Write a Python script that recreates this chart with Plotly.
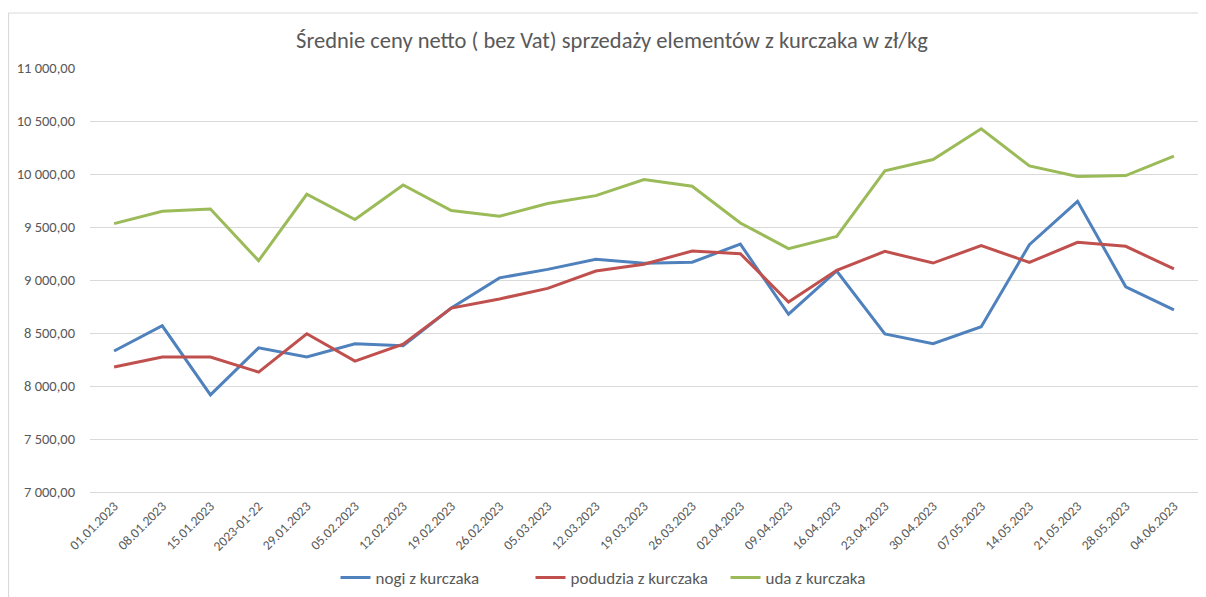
import plotly.graph_objects as go

dates = ["01.01.2023", "08.01.2023", "15.01.2023", "2023-01-22", "29.01.2023", "05.02.2023",
         "12.02.2023", "19.02.2023", "26.02.2023", "05.03.2023", "12.03.2023", "19.03.2023",
         "26.03.2023", "02.04.2023", "09.04.2023", "16.04.2023", "23.04.2023", "30.04.2023",
         "07.05.2023", "14.05.2023", "21.05.2023", "28.05.2023", "04.06.2023"]

nogi = [8330, 8568, 7916, 8360, 8275, 8398, 8379, 8735, 9020, 9100, 9195, 9158, 9168, 9338,
        8677, 9085, 8492, 8400, 8559, 9333, 9742, 8936, 8719]
podudzia = [8179, 8273, 8273, 8131, 8493, 8235, 8395, 8735, 8821, 8921, 9085, 9148, 9274, 9248,
            8792, 9091, 9270, 9160, 9324, 9166, 9355, 9318, 9104]
uda = [9532, 9648, 9670, 9182, 9809, 9570, 9897, 9655, 9601, 9721, 9796, 9948, 9884, 9538,
       9296, 9412, 10030, 10137, 10426, 10077, 9976, 9985, 10168]

series = [("nogi z kurczaka", nogi, "#4f81bd"),
          ("podudzia z kurczaka", podudzia, "#c0504d"),
          ("uda z kurczaka", uda, "#9bbb59")]

FONT = "Carlito, Calibri, Lato, sans-serif"
GREY = "#595959"

fig = go.Figure()
for name, vals, color in series:
    fig.add_trace(go.Scatter(x=dates, y=vals, name=name, mode="lines",
                             line=dict(color=color, width=3)))

# page body has an 8px margin, so the figure is drawn 8px right/down
OFF = 8
W, H = 1206 - OFF, 597 - OFF
L, R, T, B = 90 - OFF, 8, 68 - OFF, 105
pw, ph = W - L - R, H - T - B

fig.update_layout(
    width=W, height=H,
    margin=dict(l=L, r=R, t=T, b=B, autoexpand=False),
    paper_bgcolor="white", plot_bgcolor="white",
    separators=", ",
    font=dict(family=FONT, color=GREY, size=13),
    title=dict(text="Średnie ceny netto ( bez Vat) sprzedaży elementów z kurczaka w zł/kg",
               x=(612 - OFF) / W, xanchor="center", xref="container",
               y=1 - (40 - OFF) / H, yanchor="middle", yref="container",
               font=dict(family=FONT, size=22.5, color=GREY)),
    showlegend=True,
    legend=dict(orientation="h", x=(628 - OFF) / W, xref="container", xanchor="center",
                y=1 - (578 - OFF) / H, yref="container", yanchor="middle",
                font=dict(family=FONT, size=17, color=GREY),
                itemwidth=30, tracegroupgap=0, entrywidth=150),
    xaxis=dict(type="category", tickangle=-45, showgrid=False, showline=True,
               linecolor="#d9d9d9", linewidth=1, ticks="", automargin=False,
               tickfont=dict(family=FONT, size=13.5, color=GREY),
               range=[-0.5, len(dates) - 0.5]),
    yaxis=dict(range=[7000, 11000], dtick=500, tickformat=",.2f", separatethousands=True,
               showgrid=True, gridcolor="#d9d9d9", gridwidth=1, zeroline=False,
               ticks="", ticklabelstandoff=14, automargin=False,
               tickfont=dict(family=FONT, size=14.5, color=GREY)),
    shapes=[
        dict(type="line", xref="paper", yref="paper",
             x0=(0.5 - L) / pw, x1=1.2, y0=(H - B - (13 - OFF)) / ph, y1=(H - B - (13 - OFF)) / ph,
             line=dict(color="#d9d9d9", width=1.2)),
        dict(type="line", xref="paper", yref="paper",
             x0=(0.5 - L) / pw, x1=(0.5 - L) / pw, y0=(H - B - (13 - OFF)) / ph, y1=-1,
             line=dict(color="#d9d9d9", width=1.2)),
    ],
)

fig.write_html("out.html")
